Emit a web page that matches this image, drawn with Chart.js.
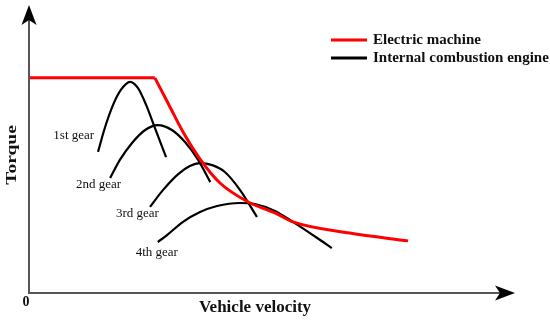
<!DOCTYPE html>
<html>
<head>
<meta charset="utf-8">
<script src="https://cdn.jsdelivr.net/npm/chart.js"></script>
<style>
    body { margin: 0; background: #fff; }
    #box { width: 550px; height: 321px; }
</style>
</head>
<body>
<div id="box"><canvas id="torqueChart"></canvas></div>
<script>
// electric machine envelope (velocity, torque in % of axis)
// flat part and constant power part kept apart so the corner stays sharp
var emFlatV = [0, 25.9];
var emFlatT = [74.7, 74.7];
var emV = [25.9, 28.8, 31.7, 35.2, 39.3, 45.1, 50.6, 54.3, 66.0, 78.0];
var emT = [74.7, 65.3, 55.9, 46.5, 38.2, 31.6, 27.8, 24.7, 20.8, 18.1];

// engine curves, one per gear
var gear1V = [14.2, 15.6, 17.3, 18.9, 20.8, 22.4, 24.1, 25.9, 28.2];
var gear1T = [49.0, 57.3, 65.3, 70.5, 73.3, 71.2, 65.3, 57.3, 47.2];
var gear2V = [16.7, 18.7, 21.2, 23.9, 26.5, 29.4, 32.1, 34.8, 37.3];
var gear2T = [39.9, 46.2, 52.1, 56.6, 58.3, 56.6, 52.4, 46.2, 38.5];
var gear3V = [24.9, 27.6, 30.7, 33.1, 35.2, 37.7, 40.3, 43.4, 46.9];
var gear3T = [29.9, 35.8, 41.3, 44.1, 45.1, 44.4, 42.0, 35.8, 26.4];
var gear4V = [26.5, 28.4, 31.7, 35.2, 38.7, 43.4, 46.5, 50.6, 54.3, 59.3, 62.3];
var gear4T = [17.7, 20.1, 24.7, 28.1, 30.2, 31.25, 30.9, 28.5, 24.7, 19.1, 15.6];

var gearNames = ["1st gear", "2nd gear", "3rd gear", "4th gear"];
var gearLabelV = [9.2, 14.3, 22.3, 26.3];
var gearLabelT = [54.5, 37.5, 27.5, 14.2];

var legendNames = ["Electric machine", "Internal combustion engine"];

function toPoints(vs, ts) {
    var pts = [];
    for (var i = 0; i < vs.length; i++) {
        pts.push({ x: vs[i], y: ts[i] });
    }
    return pts;
}

function lineSet(label, vs, ts, color, width) {
    return {
        label: label,
        data: toPoints(vs, ts),
        borderColor: color,
        borderWidth: width,
        pointRadius: 0,
        fill: false,
        cubicInterpolationMode: 'monotone'
    };
}

function arrowHead(ctx, tipX, tipY, dir) {
    //dir: 'up' or 'right'
    ctx.save();
    ctx.translate(tipX, tipY);
    if (dir == 'right') ctx.rotate(Math.PI / 2);
    ctx.beginPath();
    ctx.moveTo(0, 0);
    ctx.lineTo(7.5, 20);
    ctx.lineTo(0, 15);
    ctx.lineTo(-7.5, 20);
    ctx.closePath();
    ctx.fillStyle = '#000';
    ctx.fill();
    ctx.restore();
}

var decorPlugin = {
    id: 'decor',
    afterDatasetsDraw: function (chart) {
        var ctx = chart.ctx;
        var xs = chart.scales.x, ys = chart.scales.y;
        var x0 = xs.getPixelForValue(0), y0 = ys.getPixelForValue(0);
        var xEnd = xs.getPixelForValue(100), yEnd = ys.getPixelForValue(100);

        //axes
        ctx.save();
        ctx.strokeStyle = '#555';
        ctx.lineWidth = 2;
        ctx.beginPath();
        ctx.moveTo(x0, yEnd + 12);
        ctx.lineTo(x0, y0);
        ctx.lineTo(xEnd - 12, y0);
        ctx.stroke();
        ctx.restore();
        arrowHead(ctx, x0, yEnd, 'up');
        arrowHead(ctx, xEnd, y0, 'right');

        //gear labels
        ctx.save();
        ctx.fillStyle = '#111';
        ctx.font = '13px "Liberation Serif"';
        ctx.textAlign = 'center';
        ctx.textBaseline = 'middle';
        for (var i = 0; i < gearNames.length; i++) {
            ctx.fillText(gearNames[i], xs.getPixelForValue(gearLabelV[i]), ys.getPixelForValue(gearLabelT[i]));
        }

        //axis titles
        ctx.font = 'bold 17px "Liberation Serif"';
        ctx.fillText('Vehicle velocity', 255, 308);
        ctx.font = 'bold 14px "Liberation Serif"';
        ctx.fillText('0', 26, 302);
        ctx.save();
        ctx.translate(12, 155);
        ctx.rotate(-Math.PI / 2);
        ctx.scale(1.3, 1);
        ctx.font = 'bold 15px "Liberation Serif"';
        ctx.fillText('Torque', 0, 0);
        ctx.restore();

        //legend
        var colors = [chart.data.datasets[0].borderColor, chart.data.datasets[2].borderColor];
        var rows = [40, 58];
        ctx.font = 'bold 15px "Liberation Serif"';
        ctx.textAlign = 'left';
        for (var j = 0; j < legendNames.length; j++) {
            ctx.strokeStyle = colors[j];
            ctx.lineWidth = 3;
            ctx.beginPath();
            ctx.moveTo(331, rows[j]);
            ctx.lineTo(367, rows[j]);
            ctx.stroke();
            ctx.fillStyle = '#111';
            ctx.fillText(legendNames[j], 373, rows[j]);
        }
        ctx.restore();
    }
};

var ctx = document.getElementById('torqueChart');
var myChart = new Chart(ctx, {
    type: 'line',
    data: {
        datasets: [
            lineSet(legendNames[0], emFlatV, emFlatT, '#ff0000', 3),
            lineSet(legendNames[0], emV, emT, '#ff0000', 3),
            lineSet(gearNames[0], gear1V, gear1T, '#000', 2.2),
            lineSet(gearNames[1], gear2V, gear2T, '#000', 2.2),
            lineSet(gearNames[2], gear3V, gear3T, '#000', 2.2),
            lineSet(gearNames[3], gear4V, gear4T, '#000', 2.2)
        ]
    },
    options: {
        responsive: true,
        maintainAspectRatio: false,
        animation: false,
        layout: { padding: { left: 29, right: 35, top: 5, bottom: 28 } },
        scales: {
            x: { type: 'linear', min: 0, max: 100, display: false },
            y: { type: 'linear', min: 0, max: 100, display: false }
        },
        plugins: {
            legend: { display: false },
            tooltip: { enabled: false }
        }
    },
    plugins: [decorPlugin]
});
</script>
</body>
</html>
